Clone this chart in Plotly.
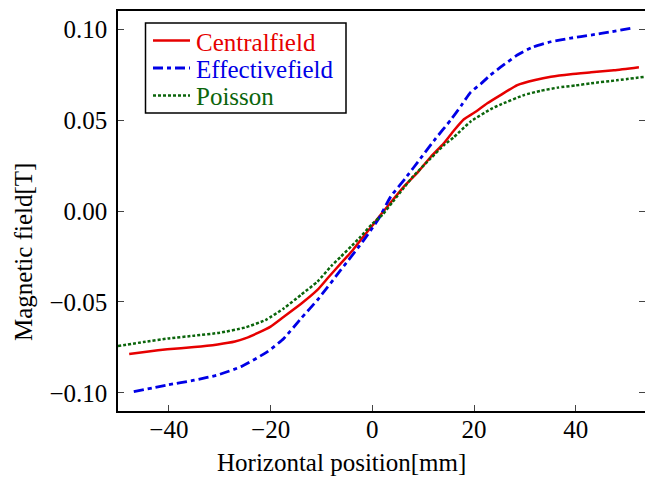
import plotly.graph_objects as go

# Horizontal field profiles across the magnet gap
central_x = [-47.8, -44, -40.3, -35, -30.4, -27, -25, -22.5, -20, -17.4, -14, -10.8, -8.5, -6.2,
             -4, -2.3, 0, 1.6, 4, 6.2, 9, 11.5, 14, 16, 18, 20, 22.6, 25.2, 28.5, 32, 35.1, 39,
             43, 47.5, 52.4]
central_y = [-0.0786, -0.0772, -0.0760, -0.0748, -0.0733, -0.0717, -0.0700, -0.0670, -0.0635,
             -0.0581, -0.0510, -0.0434, -0.0360, -0.0288, -0.0220, -0.0159, -0.0080, -0.0022,
             0.0060, 0.0134, 0.0215, 0.0298, 0.0370, 0.0441, 0.0504, 0.0540, 0.0592, 0.0637,
             0.0692, 0.0720, 0.0738, 0.0752, 0.0762, 0.0773, 0.0790]

effective_x = [-46.9, -40.3, -35, -30.4, -25.8, -20.6, -17.4, -14, -10.8, -6.2, -1.65, 1.3, 3.6,
               6.5, 9.5, 12.5, 15.4, 17.5, 19.3, 21.3, 23, 25.2, 28.5, 31.5, 35.1, 39, 43, 47,
               50.8]
effective_y = [-0.0993, -0.0956, -0.0930, -0.0901, -0.0855, -0.0773, -0.0700, -0.0590, -0.0489,
               -0.0324, -0.0159, -0.0040, 0.0079, 0.0180, 0.0290, 0.0400, 0.0500, 0.0580,
               0.0652, 0.0698, 0.0742, 0.0790, 0.0857, 0.0900, 0.0930, 0.0950, 0.0967, 0.0985,
               0.1004]

poisson_x = [-50, -45, -40, -35, -30, -25, -21, -17.4, -14, -10.8, -8, -6.2, -4, -2.3, 0, 2, 4,
             6.2, 8, 11.5, 14, 16, 19.3, 23.3, 25.2, 29.8, 33, 36.4, 40, 43, 48, 53.7]
poisson_y = [-0.0742, -0.0720, -0.0700, -0.0685, -0.0669, -0.0640, -0.0599, -0.0535, -0.0460,
             -0.0388, -0.0300, -0.0251, -0.0190, -0.0141, -0.0070, -0.0020, 0.0050, 0.0128,
             0.0190, 0.0290, 0.0360, 0.0405, 0.0491, 0.0560, 0.0585, 0.0637, 0.0660, 0.0678,
             0.0690, 0.0702, 0.0718, 0.0738]

x_ticks = [-40, -20, 0, 20, 40]
y_ticks = [-0.10, -0.05, 0.00, 0.05, 0.10]

RED = "#e60000"
BLUE = "#0000e6"
GREEN = "#0b650b"
FONT = "Liberation Serif"
FS = 25

# plot-area geometry in pixels, used to place the legend box
W, H = 645, 478
L, R, T, B = 118, 0, 11, 67
PW, PH = W - L - R, H - T - B


def px(x):
    return (x - L) / PW


def py(y):
    return (H - B - y) / PH


series = [
    ("Centralfield", central_x, central_y, dict(color=RED, width=2.5)),
    ("Effectivefield", effective_x, effective_y, dict(color=BLUE, width=2.8, dash="10px,4px,4px,4px")),
    ("Poisson", poisson_x, poisson_y, dict(color=GREEN, width=2.5, dash="3px,2px")),
]

fig = go.Figure()
for name, xs, ys, ln in series:
    fig.add_trace(go.Scatter(x=xs, y=ys, mode="lines", name=name, showlegend=False,
                             line=dict(shape="spline", smoothing=0.5, **ln)))
# carrier for the right-hand tick marks
fig.add_trace(go.Scatter(x=[], y=[], yaxis="y2", showlegend=False, hoverinfo="skip"))

# legend box with line samples and coloured labels
shapes = [dict(type="rect", xref="paper", yref="paper", x0=px(145.5), x1=px(346), y0=py(23),
               y1=py(113), line=dict(color="black", width=1.5), fillcolor="white", layer="above")]
annotations = []
for i, (name, xs, ys, ln) in enumerate(series):
    yc = 42 + i * 27.5
    shapes.append(dict(type="line", xref="paper", yref="paper", x0=px(153), x1=px(190),
                       y0=py(yc - 1.5), y1=py(yc - 1.5), layer="above",
                       line=dict(color=ln["color"], width=ln["width"], dash=ln.get("dash", "solid"))))
    annotations.append(dict(text=name, xref="paper", yref="paper", x=px(194), y=py(yc),
                            xanchor="left", yanchor="middle", showarrow=False,
                            font=dict(family=FONT, size=FS, color=ln["color"])))

annotations += [
    dict(text="Horizontal position[mm]", xref="paper", yref="paper",
         x=px(341), y=py(462), xanchor="center", yanchor="middle",
         showarrow=False, font=dict(family=FONT, size=FS)),
    dict(text="Magnetic field[T]", xref="paper", yref="paper", textangle=-90,
         x=px(23), y=py(252), xanchor="center", yanchor="middle",
         showarrow=False, font=dict(family=FONT, size=FS)),
]

fig.update_layout(
    width=W, height=H,
    margin=dict(l=L, r=R, t=T, b=B),
    paper_bgcolor="white", plot_bgcolor="white",
    font=dict(family=FONT, size=FS, color="black"),
    showlegend=False,
    xaxis=dict(range=[-50, 53.6], tickvals=x_ticks, ticks="inside", ticklen=6, tickwidth=1.3,
               showline=True, linecolor="black", linewidth=1.5, mirror=True,
               showgrid=False, zeroline=False, ticklabelstandoff=-5,
               tickfont=dict(family=FONT, size=FS)),
    yaxis=dict(range=[-0.1099, 0.1099], tickvals=y_ticks, tickformat=".2f", ticks="inside",
               ticklen=6, tickwidth=1.3, showline=True, linecolor="black", linewidth=1.5,
               mirror=False, showgrid=False, zeroline=False, ticklabelstandoff=4,
               tickfont=dict(family=FONT, size=FS)),
    yaxis2=dict(range=[-0.1099, 0.1099], tickvals=y_ticks, overlaying="y", side="right",
                ticks="inside", ticklen=6, tickwidth=1.3, showticklabels=False,
                showline=False, showgrid=False, zeroline=False),
    shapes=shapes,
    annotations=annotations,
)

fig.write_html("out.html")
